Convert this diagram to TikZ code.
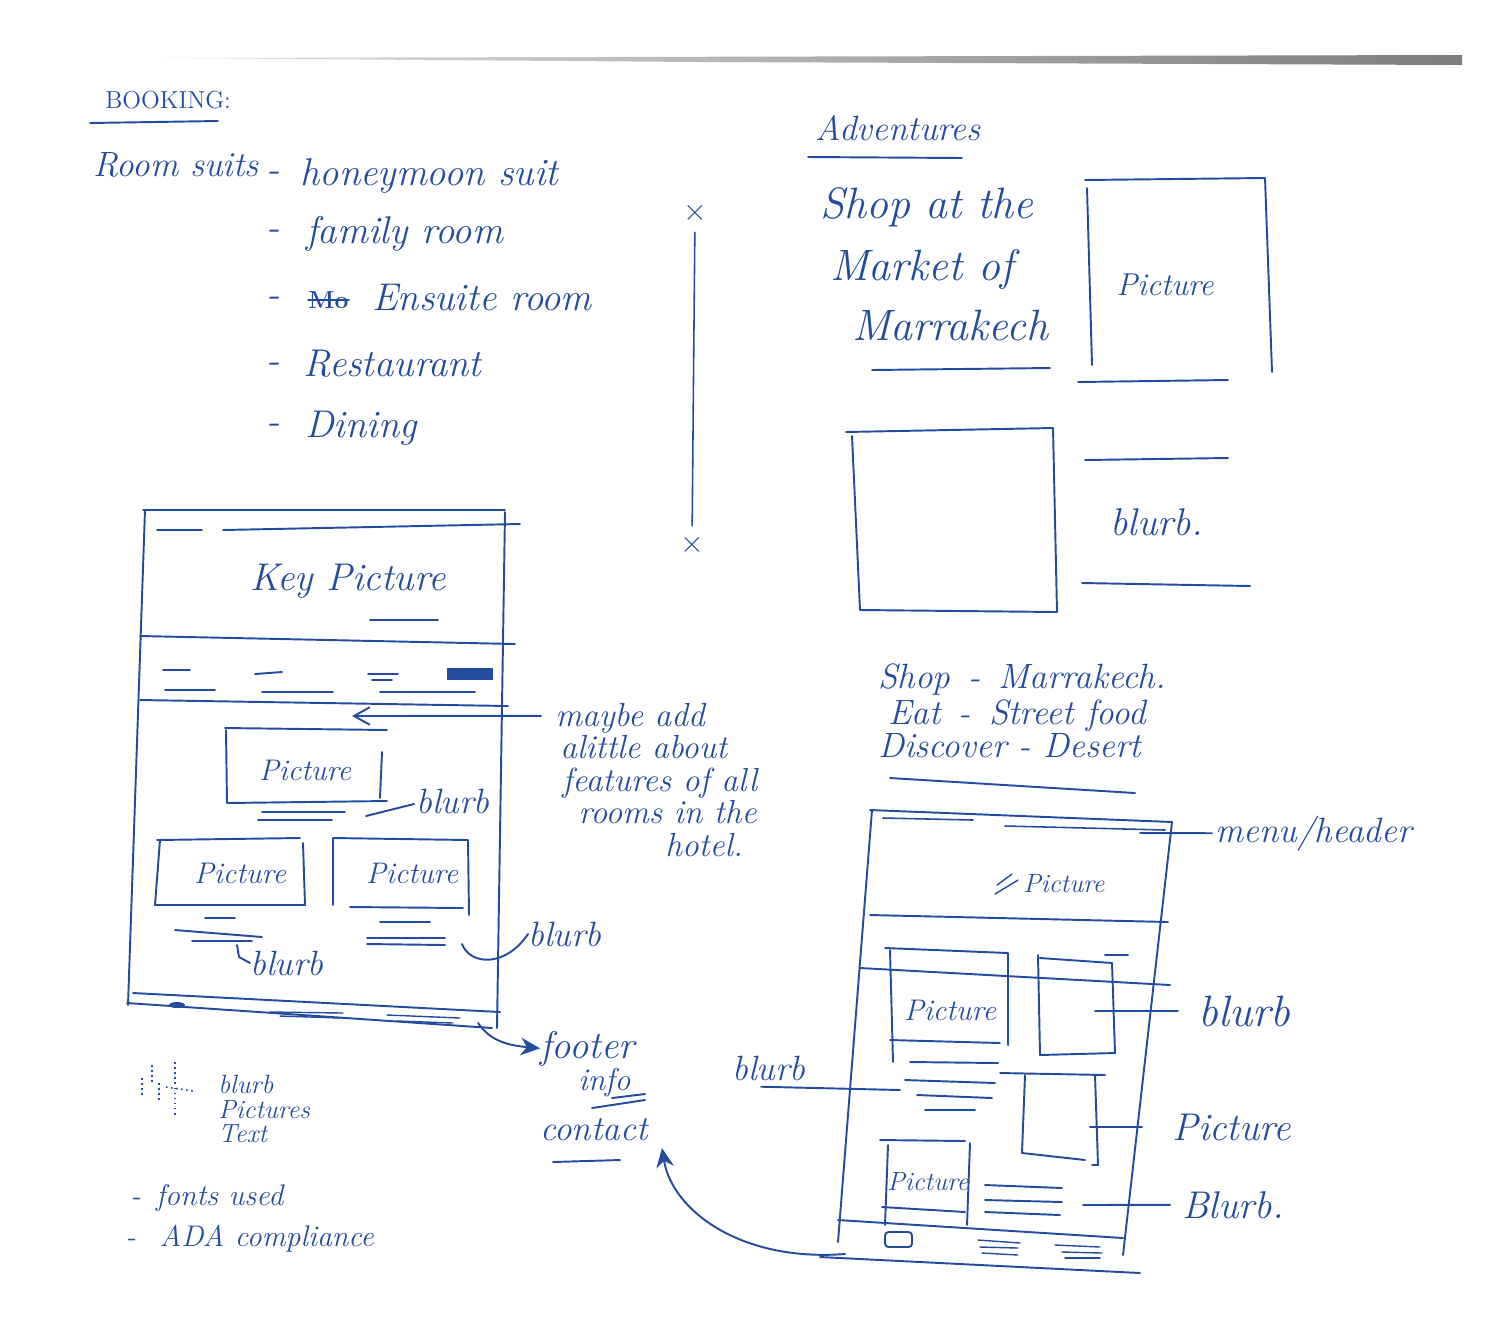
\documentclass[tikz,border=0pt]{standalone}
\usepackage{tikz}
\usetikzlibrary{positioning, calc, arrows.meta}
\definecolor{ink}{RGB}{36,76,158}
\definecolor{scan}{RGB}{110,110,110}

\tikzset{
    pen/.style={draw=ink, line width=1.1pt, line cap=round, line join=round},
    hand/.style={text=ink, inner sep=0pt, anchor=base west, font=\itshape\fontsize{22}{24}\selectfont},
    smallhand/.style={hand, font=\itshape\fontsize{15}{17}\selectfont},
    boxhand/.style={text=ink, inner sep=0pt, font=\itshape\fontsize{17}{19}\selectfont},
    cross/.style={text=ink, inner sep=5pt, font=\fontsize{16}{16}\selectfont},
}

\begin{document}
\begin{tikzpicture}[x=0.02cm, y=-0.02cm]
    \useasboundingbox (0,0) rectangle (1496,1340);

    % Scanner edge along the top
    \shade[left color=scan!20, right color=scan!90] (160,58) -- (1462,55) -- (1462,65) -- (700,62) -- cycle;

    % Booking heading and list of rooms
    \node[hand, font=\fontsize{14}{15}\selectfont] (booking) at (105,108) {BOOKING:};
    \draw[pen] (90,123) -- (218,121);
    \node[hand, font=\itshape\fontsize{20}{22}\selectfont] (rooms) at (93,176) {Room suits};
    \foreach \xx/\yy/\item/\nm in {300/185/honeymoon suit/honey, 306/243/family room/family,
                                   372/310/Ensuite room/ensuite, 303/376/Restaurant/resto, 305/437/Dining/dining} {
        \node[hand] (\nm-dash) at (266,\yy-4) {-};
        \node[hand] (\nm) at (\xx,\yy) {\item};
    }
    \node[hand, font=\bfseries\fontsize{14}{14}\selectfont] (struck) at (308,308) {Mo};
    \draw[pen] (struck.west) -- (struck.east);

    % Divider with cross marks
    \node[cross] (xtop) at (695,213) {$\times$};
    \node[cross] (xbot) at (692,545) {$\times$};
    \draw[pen, line width=0.9pt] (xtop) -- (xbot);

    % Adventures page
    \node[hand, font=\itshape\fontsize{20}{22}\selectfont] (adv) at (815,140) {Adventures};
    \draw[pen] (808,157) -- (962,158);
    \node[hand, font=\itshape\fontsize{25}{27}\selectfont] (shop1) at (820,218) {Shop at the};
    \node[hand, font=\itshape\fontsize{25}{27}\selectfont] (shop2) at (830,280) {Market of};
    \node[hand, font=\itshape\fontsize{25}{27}\selectfont] (shop3) at (852,340) {Marrakech};
    \draw[pen] (872,370) -- (1050,368);

    % Adventures picture box
    \draw[pen] (1085,180) -- (1265,178) -- (1272,372);
    \draw[pen] (1087,188) -- (1092,365);
    \draw[pen] (1078,382) -- (1228,380);
    \node[boxhand, font=\itshape\fontsize{18}{20}\selectfont] (advpic) at (1165,285) {Picture};

    % Adventures empty box and blurb
    \draw[pen] (846,432) -- (1053,428) -- (1057,612) -- (860,610) -- (852,436);
    \draw[pen] (1085,460) -- (1228,458);
    \node[hand] (advblurb) at (1110,535) {blurb.};
    \draw[pen] (1082,583) -- (1250,586);

    % Adventure categories
    \node[hand, font=\itshape\fontsize{20}{22}\selectfont] (cat1) at (878,688) {Shop\, -\, Marrakech.};
    \node[hand, font=\itshape\fontsize{20}{22}\selectfont] (cat2) at (888,724) {Eat\, -\, Street food};
    \node[hand, font=\itshape\fontsize{20}{22}\selectfont] (cat3) at (878,757) {Discover - Desert};
    \draw[pen] (890,778) -- (1135,793);

    % Booking page wireframe: frame
    \draw[pen] (143,510) -- (505,510);
    \draw[pen] (157,530) -- (202,530);
    \draw[pen] (223,530) -- (520,524);
    \draw[pen] (145,510) -- (128,1005);
    \draw[pen] (505,512) -- (497,1028);

    % Key picture header
    \node[hand] (keypic) at (250,590) {Key Picture};
    \draw[pen] (370,620) -- (438,620);
    \draw[pen] (140,636) -- (515,644);

    % Navigation bar
    \draw[pen] (163,670) -- (190,670);
    \draw[pen] (255,674) -- (282,672);
    \draw[pen] (368,674) -- (398,674);
    \draw[pen] (372,680) -- (392,680);
    \fill[ink] (447,668) rectangle (493,680);
    \draw[pen] (165,690) -- (215,690);
    \draw[pen] (262,692) -- (333,692);
    \draw[pen] (380,692) -- (475,692);
    \draw[pen] (140,700) -- (508,706);

    % Room pictures
    \draw[pen] (225,728) -- (387,730);
    \draw[pen] (226,730) -- (227,803) -- (387,801);
    \draw[pen] (382,752) -- (380,798);
    \node[boxhand] (pic1) at (305,770) {Picture};
    \draw[pen] (157,840) -- (300,838);
    \draw[pen] (160,840) -- (155,905) -- (305,905) -- (303,843);
    \node[boxhand] (pic2) at (240,873) {Picture};
    \draw[pen] (333,905) -- (333,838) -- (468,840) -- (469,915);
    \draw[pen] (350,907) -- (463,908);
    \node[boxhand] (pic3) at (412,873) {Picture};

    % Blurb lines under the pictures
    \draw[pen] (262,812) -- (345,812);
    \draw[pen] (258,820) -- (332,820);
    \draw[pen] (205,918) -- (235,918);
    \draw[pen] (175,930) -- (262,937);
    \draw[pen] (192,941) -- (252,941);
    \draw[pen] (380,922) -- (430,922);
    \draw[pen] (367,938) -- (445,938);
    \draw[pen] (367,944) -- (445,945);

    % Blurb labels
    \node[hand, font=\itshape\fontsize{20}{22}\selectfont] (blurb1) at (416,813) {blurb};
    \coordinate (blurb1end) at (366,816);
    \draw[pen] (blurb1.west) ++(-2,3) -- (blurb1end);
    \node[hand, font=\itshape\fontsize{20}{22}\selectfont] (blurb2) at (250,975) {blurb};
    \draw[pen] (237,945) -- (239,957) -- (blurb2.west);
    \node[hand, font=\itshape\fontsize{20}{22}\selectfont] (blurb3) at (528,946) {blurb};
    \coordinate (blurb3end) at (462,944);
    \draw[pen] (blurb3.west) .. controls (505,968) and (470,965) .. (blurb3end);

    % Footer of the booking page
    \draw[pen] (133,993) -- (500,1012);
    \draw[pen] (127,1003) -- (492,1028);
    \fill[ink] (177,1005) ellipse (8 and 3);
    \draw[pen, line width=0.8pt] (270,1012) -- (343,1013);
    \draw[pen, line width=0.8pt] (280,1016) -- (340,1018);
    \draw[pen, line width=0.8pt] (387,1015) -- (460,1018);
    \draw[pen, line width=0.8pt] (397,1021) -- (453,1023);

    % Note about the rooms
    \node[hand, font=\itshape\fontsize{19}{21}\selectfont] (note1) at (555,726) {maybe add};
    \node[hand, font=\itshape\fontsize{19}{21}\selectfont] (note2) at (560,758) {alittle about};
    \node[hand, font=\itshape\fontsize{19}{21}\selectfont] (note3) at (562,791) {features of all};
    \node[hand, font=\itshape\fontsize{19}{21}\selectfont] (note4) at (578,823) {rooms in the};
    \node[hand, font=\itshape\fontsize{19}{21}\selectfont] (note5) at (665,856) {hotel.};
    \coordinate (navgap) at (352,716);
    \draw[pen, -{Straight Barb[length=9pt, width=10pt]}] (note1.west) ++(-14,-2) -- (navgap);

    % Footer and contact notes
    \node[hand] (footer) at (540,1058) {footer};
    \node[hand, font=\itshape\fontsize{18}{20}\selectfont] (info) at (578,1090) {info};
    \draw[pen] (612,1098) -- (645,1094);
    \draw[pen] (592,1108) -- (645,1100);
    \coordinate (footstart) at (478,1023);
    \draw[pen, -{Stealth[length=11pt, width=10pt]}] (footstart) .. controls (490,1040) and (505,1045) .. (footer.west);
    \node[hand, font=\itshape\fontsize{20}{22}\selectfont] (contact) at (540,1140) {contact};
    \draw[pen] (553,1162) -- (620,1160);

    % Legend
    \draw[ink, dotted, line width=0.9pt] (142,1078) -- (142,1095);
    \draw[ink, dotted, line width=0.9pt] (152,1065) -- (152,1083);
    \draw[ink, dotted, line width=0.9pt] (159,1083) -- (159,1100);
    \draw[ink, dotted, line width=0.9pt] (175,1062) -- (175,1115);
    \draw[ink, dotted, line width=0.9pt] (166,1087) -- (193,1091);
    \node[smallhand] (lgblurb) at (218,1093) {blurb};
    \node[smallhand] (lgpics) at (218,1118) {Pictures};
    \node[smallhand] (lgtext) at (218,1142) {Text};
    \node[hand, font=\itshape\fontsize{17}{19}\selectfont] (fonts) at (130,1205) {-\, fonts used};
    \node[hand, font=\itshape\fontsize{17}{19}\selectfont] (ada) at (125,1246) {-\hspace{0.8em}ADA compliance};

    % Adventures page wireframe: frame and header
    \draw[pen] (870,810) -- (1172,822);
    \draw[pen] (872,810) -- (838,1242);
    \draw[pen] (1172,822) -- (1123,1255);
    \draw[pen, line width=0.9pt] (883,818) -- (973,820);
    \draw[pen, line width=0.9pt] (1005,826) -- (1165,830);
    \node[hand, font=\itshape\fontsize{20}{22}\selectfont] (menu) at (1215,842) {menu/header};
    \coordinate (menuend) at (1140,833);
    \draw[pen] (menu.west) ++(-3,0) -- (menuend);
    \draw[pen, line width=0.8pt] (997,885) -- (1012,874);
    \draw[pen, line width=0.8pt] (995,894) -- (1018,880);
    \node[boxhand, font=\itshape\fontsize{15}{17}\selectfont] (advhero) at (1064,884) {Picture};
    \draw[pen] (870,915) -- (1168,922);

    % Adventures page wireframe: content boxes
    \draw[pen] (885,948) -- (1008,953) -- (1008,1045);
    \draw[pen] (890,950) -- (893,1062);
    \draw[pen] (890,1040) -- (1000,1043);
    \node[boxhand] (advpic1) at (950,1010) {Picture};
    \draw[pen] (860,968) -- (1170,985);
    \draw[pen] (1038,955) -- (1040,1055) -- (1115,1053) -- (1112,963) -- (1040,958);
    \draw[pen] (1105,955) -- (1128,955);
    \draw[pen] (1000,1073) -- (1105,1075);
    \draw[pen] (1025,1075) -- (1022,1153) -- (1085,1160);
    \draw[pen] (1095,1075) -- (1098,1165) -- (1092,1165);
    \draw[pen] (880,1140) -- (965,1141);
    \draw[pen] (888,1145) -- (885,1225);
    \draw[pen] (970,1143) -- (967,1225);
    \draw[pen] (882,1207) -- (965,1212);
    \node[boxhand, font=\itshape\fontsize{15}{17}\selectfont] (advpic2) at (928,1182) {Picture};

    % Adventures page wireframe: blurb lines
    \draw[pen] (910,1062) -- (998,1063);
    \draw[pen] (905,1080) -- (995,1083);
    \draw[pen] (917,1095) -- (992,1098);
    \draw[pen] (925,1110) -- (975,1110);
    \draw[pen] (985,1185) -- (1062,1188);
    \draw[pen] (985,1200) -- (1062,1202);
    \draw[pen] (985,1212) -- (1060,1215);

    % Adventures page wireframe: footer
    \draw[pen] (838,1220) -- (1123,1238);
    \draw[pen, rounded corners=2pt] (885,1232) rectangle (912,1247);
    \draw[pen, line width=0.8pt] (978,1240) -- (1020,1243);
    \draw[pen, line width=0.8pt] (980,1247) -- (1018,1248);
    \draw[pen, line width=0.8pt] (982,1253) -- (1018,1255);
    \draw[pen, line width=0.8pt] (1055,1245) -- (1100,1247);
    \draw[pen, line width=0.8pt] (1062,1252) -- (1102,1253);
    \draw[pen, line width=0.8pt] (1065,1258) -- (1100,1258);
    \draw[pen] (820,1257) -- (1140,1273);

    % Labels on the right of the adventures wireframe
    \node[hand, font=\itshape\fontsize{25}{27}\selectfont] (advblurb1) at (1198,1026) {blurb};
    \coordinate (advblurb1end) at (1095,1011);
    \draw[pen] (advblurb1.west) ++(-20,0) -- (advblurb1end);
    \node[hand] (advpic3) at (1172,1140) {Picture};
    \coordinate (advpic3end) at (1090,1127);
    \draw[pen] (advpic3.west) ++(-30,0) -- (advpic3end);
    \node[hand] (advblurb2) at (1182,1218) {Blurb.};
    \coordinate (advblurb2end) at (1083,1205);
    \draw[pen] (advblurb2.west) ++(-12,0) -- (advblurb2end);
    \node[hand, font=\itshape\fontsize{20}{22}\selectfont] (advblurb3) at (732,1080) {blurb};
    \coordinate (advblurb3end) at (900,1090);
    \draw[pen] (advblurb3.south east) ++(-45,6) -- (advblurb3end);

    % Link from the adventures footer to contact
    \coordinate (contactstart) at (845,1254);
    \coordinate (contacttip) at (662,1148);
    \draw[pen, -{Stealth[length=11pt, width=10pt]}] (contactstart) .. controls (740,1262) and (672,1210) .. (contacttip);

\end{tikzpicture}
\end{document}
